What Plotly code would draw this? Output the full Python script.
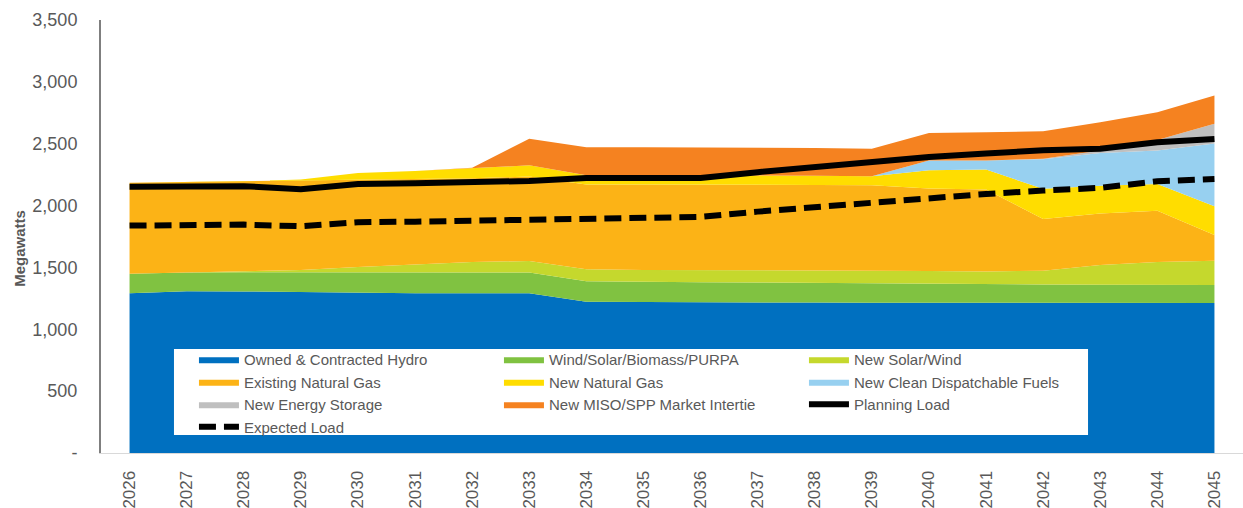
import plotly.graph_objects as go

years = list(range(2026, 2046))

# Resource stack, megawatts per year
hydro = [1292, 1308, 1306, 1300, 1294, 1292, 1292, 1292, 1222, 1219,
         1218, 1217, 1216, 1215, 1215, 1214, 1213, 1212, 1212, 1212]
wind_solar_purpa = [156, 152, 155, 160, 165, 165, 165, 166, 166, 162,
                    162, 162, 161, 159, 157, 153, 150, 148, 146, 145]
new_solar_wind = [0, 0, 5, 20, 45, 68, 86, 94, 97, 99,
                  99, 99, 99, 99, 100, 100, 110, 160, 185, 196]
existing_gas = [737, 730, 729, 725, 706, 690, 677, 683, 685, 690,
                691, 690, 690, 692, 665, 663, 419, 415, 416, 210]
new_gas = [0, 0, 0, 5, 54, 65, 85, 90, 75, 75,
           75, 77, 76, 72, 148, 161, 243, 226, 216, 231]
clean_dispatchable = [0, 0, 0, 0, 0, 0, 0, 0, 0, 0,
                      0, 0, 0, 0, 80, 74, 240, 264, 270, 507]
energy_storage = [0, 0, 0, 0, 0, 0, 0, 0, 0, 0,
                  0, 0, 0, 0, 0, 0, 3, 20, 85, 161]
miso_spp = [0, 0, 0, 0, 0, 0, 0, 216, 226, 226,
            226, 225, 224, 223, 222, 227, 222, 228, 224, 228]

planning_load = [2152, 2155, 2157, 2132, 2175, 2180, 2186, 2199, 2222, 2223,
                 2223, 2270, 2312, 2350, 2393, 2420, 2447, 2460, 2511, 2539]
expected_load = [1838, 1844, 1846, 1833, 1865, 1870, 1876, 1884, 1895, 1900,
                 1908, 1951, 1989, 2016, 2062, 2094, 2121, 2143, 2196, 2215]

y_ticks = [0, 500, 1000, 1500, 2000, 2500, 3000, 3500]
y_tick_text = ["-", "500", "1,000", "1,500", "2,000", "2,500", "3,000", "3,500"]

stack = [
    ("Owned & Contracted Hydro", hydro, "#0070C0"),
    ("Wind/Solar/Biomass/PURPA", wind_solar_purpa, "#80C241"),
    ("New Solar/Wind", new_solar_wind, "#C5D82D"),
    ("Existing Natural Gas", existing_gas, "#FCB316"),
    ("New Natural Gas", new_gas, "#FFDD00"),
    ("New Clean Dispatchable Fuels", clean_dispatchable, "#97D0F0"),
    ("New Energy Storage", energy_storage, "#BFBFBF"),
    ("New MISO/SPP Market Intertie", miso_spp, "#F58220"),
]

FONT = "Liberation Sans, Arial, sans-serif"
GREY = "#595959"

fig = go.Figure()
for name, vals, color in stack:
    fig.add_trace(go.Scatter(
        x=years, y=vals, name=name, mode="lines",
        stackgroup="supply", line=dict(width=0, color=color),
        fillcolor=color, hoverinfo="skip",
    ))

fig.add_trace(go.Scatter(
    x=years, y=planning_load, name="Planning Load", mode="lines",
    line=dict(color="black", width=6), hoverinfo="skip",
))
fig.add_trace(go.Scatter(
    x=years, y=expected_load, name="Expected Load", mode="lines",
    line=dict(color="black", width=6, dash="17px,8px"), hoverinfo="skip",
))

fig.update_layout(
    width=1243, height=508,
    margin=dict(l=101, r=0, t=20, b=55),
    paper_bgcolor="white", plot_bgcolor="white",
    font=dict(family=FONT, color=GREY),
    showlegend=True,
    legend=dict(
        orientation="h", traceorder="normal",
        x=0.0814, xanchor="left", y=0.254, yanchor="top",
        bgcolor="rgba(0,0,0,0)", borderwidth=0,
        itemwidth=40, entrywidth=250, entrywidthmode="pixels",
        font=dict(family=FONT, size=15, color=GREY),
        itemclick=False, itemdoubleclick=False,
    ),
    # white panel behind the legend entries
    shapes=[dict(
        type="rect", xref="paper", yref="paper",
        x0=0.0639, x1=0.8643, y0=0.0416, y1=0.2402,
        fillcolor="white", line=dict(width=0), layer="above",
    )],
    annotations=[dict(
        text="<b>Megawatts</b>", textangle=-90,
        xref="paper", yref="paper", x=-0.0709, y=0.4717,
        xanchor="center", yanchor="middle", showarrow=False,
        font=dict(family=FONT, size=15, color=GREY),
    )],
)

fig.update_xaxes(
    range=[2025.5, 2045.5], tickmode="array", tickvals=years,
    ticktext=[str(y) for y in years], tickangle=-90,
    tickfont=dict(family=FONT, size=17, color=GREY),
    showgrid=False, zeroline=False, showline=True,
    linecolor="#D9D9D9", linewidth=1, ticks="", ticklabelstandoff=10,
)
fig.update_yaxes(
    range=[0, 3500], tickmode="array", tickvals=y_ticks, ticktext=y_tick_text,
    tickfont=dict(family=FONT, size=18, color=GREY),
    showgrid=False, zeroline=False, showline=True,
    linecolor="#7F7F7F", linewidth=2, ticks="", ticklabelstandoff=18,
)

fig.write_html("out.html")
